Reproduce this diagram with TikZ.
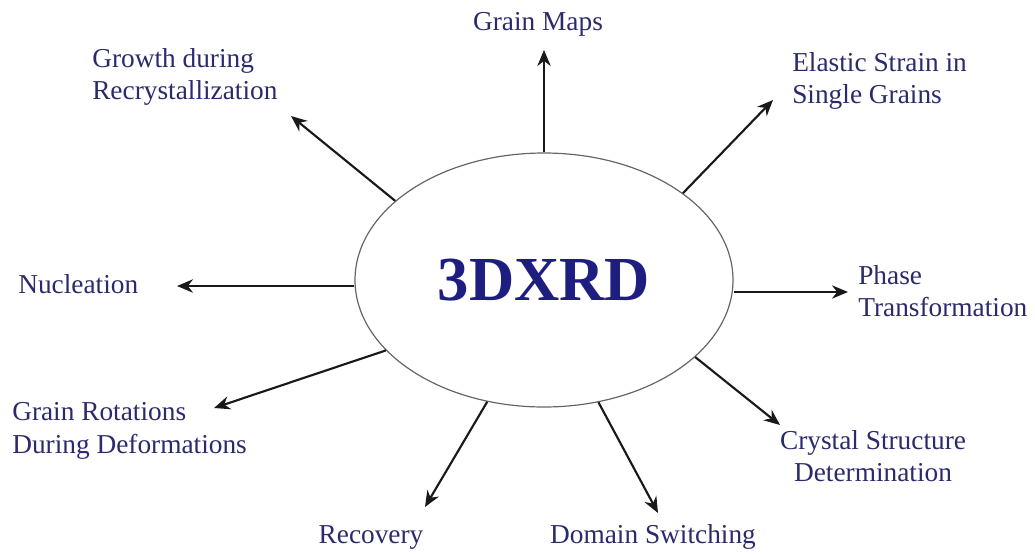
\documentclass[tikz,border=0pt]{standalone}
\usepackage{fontspec}
\setmainfont{Liberation Serif}
\usetikzlibrary{arrows.meta,shapes.geometric}
\definecolor{labelblue}{RGB}{42,42,108}
\definecolor{xrdblue}{RGB}{30,30,128}
\begin{document}
\begin{tikzpicture}[x=0.75pt,y=0.75pt,
    topic/.style={text=labelblue,font=\fontsize{20.5}{24.5}\selectfont,inner sep=0pt},
    spoke/.style={draw=black!90,line width=1.6pt,-{Stealth[length=12pt,width=10pt]}}]
    \useasboundingbox (0,0) rectangle (1035,-554);
    \node [draw=black!60,line width=0.9pt,ellipse,minimum width=283.5pt,minimum height=190.5pt,inner sep=0pt,
        text=xrdblue,font=\fontsize{47}{50}\selectfont\bfseries] (xrd) at (544,-280) {3DXRD};
    \node [topic] (maps) at (538,-24) {Grain Maps};
    \node [topic,align=left,anchor=west] (elastic) at (792,-81) {Elastic Strain in\\Single Grains};
    \node [topic,align=left,anchor=west] (phase) at (858,-291) {Phase\\Transformation};
    \node [topic,align=center] (crystal) at (873,-456) {Crystal Structure\\Determination};
    \node [topic] (domain) at (653,-537) {Domain Switching};
    \node [topic] (recovery) at (371,-537) {Recovery};
    \node [topic,align=left,anchor=west] (rotations) at (12,-431) {Grain Rotations\\During Deformations};
    \node [topic,anchor=west] (nucleation) at (18,-284) {Nucleation};
    \node [topic,align=left,anchor=west] (growth) at (92,-77) {Growth during\\Recrystallization};
    \coordinate (mapsTip) at (544,-50);
    \coordinate (elasticTip) at (773,-100);
    \coordinate (phaseTip) at (848,-292);
    \coordinate (crystalTip) at (780,-425);
    \coordinate (domainTip) at (658,-513);
    \coordinate (recoveryTip) at (425,-507);
    \coordinate (rotationsTip) at (214,-408);
    \coordinate (nucleationTip) at (177,-286);
    \coordinate (growthTip) at (291,-116);
    \draw [spoke] (xrd.north) -- (mapsTip);
    \draw [spoke] (xrd.32.5) -- (elasticTip);
    \draw [spoke] (phaseTip -| xrd.east) -- (phaseTip);
    \draw [spoke] (xrd.-27.3) -- (crystalTip);
    \draw [spoke] (xrd.-66.5) -- (domainTip);
    \draw [spoke] (xrd.-115.8) -- (recoveryTip);
    \draw [spoke] (xrd.-156.9) -- (rotationsTip);
    \draw [spoke] (nucleationTip -| xrd.west) -- (nucleationTip);
    \draw [spoke] (xrd.152.8) -- (growthTip);
\end{tikzpicture}
\end{document}
